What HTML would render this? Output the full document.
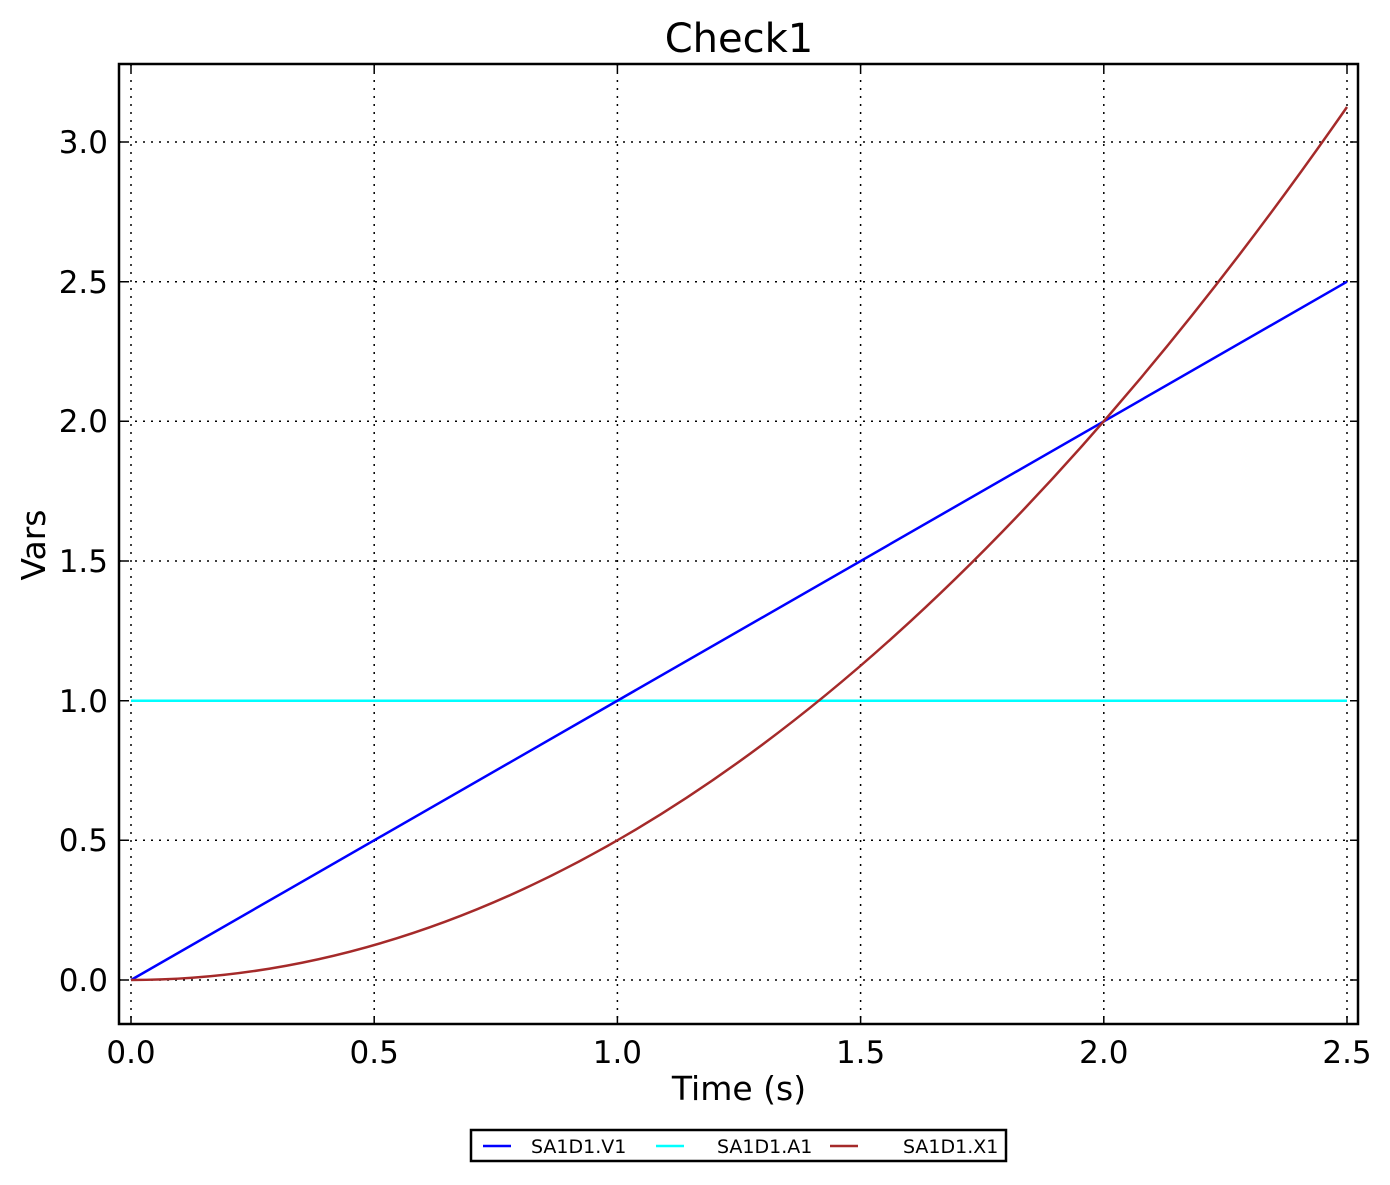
<!DOCTYPE html>
<html><head><meta charset="utf-8"><style>body{margin:0;background:#fff}</style></head><body>
<svg width="1390" height="1180" xmlns="http://www.w3.org/2000/svg" font-family="DejaVu Sans, Liberation Sans, sans-serif">
<rect width="1390" height="1180" fill="#fff"/>
<g stroke="#000" stroke-width="1.5" stroke-dasharray="2,6">
<line x1="131" y1="64" x2="131" y2="1024"/>
<line x1="374.2" y1="64" x2="374.2" y2="1024"/>
<line x1="617.4" y1="64" x2="617.4" y2="1024"/>
<line x1="860.6" y1="64" x2="860.6" y2="1024"/>
<line x1="1103.8" y1="64" x2="1103.8" y2="1024"/>
<line x1="1347" y1="64" x2="1347" y2="1024"/>
<line x1="119" y1="980" x2="1358" y2="980"/>
<line x1="119" y1="840.3" x2="1358" y2="840.3"/>
<line x1="119" y1="700.7" x2="1358" y2="700.7"/>
<line x1="119" y1="561" x2="1358" y2="561"/>
<line x1="119" y1="421.3" x2="1358" y2="421.3"/>
<line x1="119" y1="281.7" x2="1358" y2="281.7"/>
<line x1="119" y1="142" x2="1358" y2="142"/>
</g>
<g stroke="#000" stroke-width="1.5">
<path d="M131 1024v-8M374.2 1024v-8M617.4 1024v-8M860.6 1024v-8M1103.8 1024v-8M1347 1024v-8M131 64v8M374.2 64v8M617.4 64v8M860.6 64v8M1103.8 64v8M1347 64v8"/>
<path d="M119 980h8M119 840.3h8M119 700.7h8M119 561h8M119 421.3h8M119 281.7h8M119 142h8M1358 980h-8M1358 840.3h-8M1358 700.7h-8M1358 561h-8M1358 421.3h-8M1358 281.7h-8M1358 142h-8"/>
</g>
<line x1="131" y1="700.7" x2="1347" y2="700.7" stroke="#00ffff" stroke-width="2.5"/>
<line x1="131" y1="980" x2="1347" y2="281.7" stroke="#0000ff" stroke-width="2.5"/>
<path d="M131 980 Q739 980 1347 107" fill="none" stroke="#a52a2a" stroke-width="2.5"/>
<rect x="119" y="64" width="1239" height="960" fill="none" stroke="#000" stroke-width="2.5"/>
<g font-size="31" text-anchor="end" fill="#000">
<text x="108" y="991">0.0</text>
<text x="108" y="851">0.5</text>
<text x="108" y="712">1.0</text>
<text x="108" y="572">1.5</text>
<text x="108" y="432">2.0</text>
<text x="108" y="293">2.5</text>
<text x="108" y="153">3.0</text>
</g>
<g font-size="31" text-anchor="middle" fill="#000">
<text x="131" y="1063">0.0</text>
<text x="374.2" y="1063">0.5</text>
<text x="617.4" y="1063">1.0</text>
<text x="860.6" y="1063">1.5</text>
<text x="1103.8" y="1063">2.0</text>
<text x="1347" y="1063">2.5</text>
<text x="739" y="1100" font-size="33">Time (s)</text>
<text x="739" y="52" font-size="40">Check1</text>
<text transform="translate(45,545) rotate(-90)" font-size="33">Vars</text>
</g>
<rect x="471" y="1130" width="535" height="31" fill="#fff" stroke="#000" stroke-width="2.5"/>
<line x1="483" y1="1146" x2="511" y2="1146" stroke="#0000ff" stroke-width="2.5"/>
<line x1="656" y1="1146" x2="684" y2="1146" stroke="#00ffff" stroke-width="2.5"/>
<line x1="830" y1="1146" x2="858" y2="1146" stroke="#a52a2a" stroke-width="2.5"/>
<g font-size="19" fill="#000">
<text x="531" y="1153">SA1D1.V1</text>
<text x="717" y="1153">SA1D1.A1</text>
<text x="903" y="1153">SA1D1.X1</text>
</g>
</svg>
</body></html>
